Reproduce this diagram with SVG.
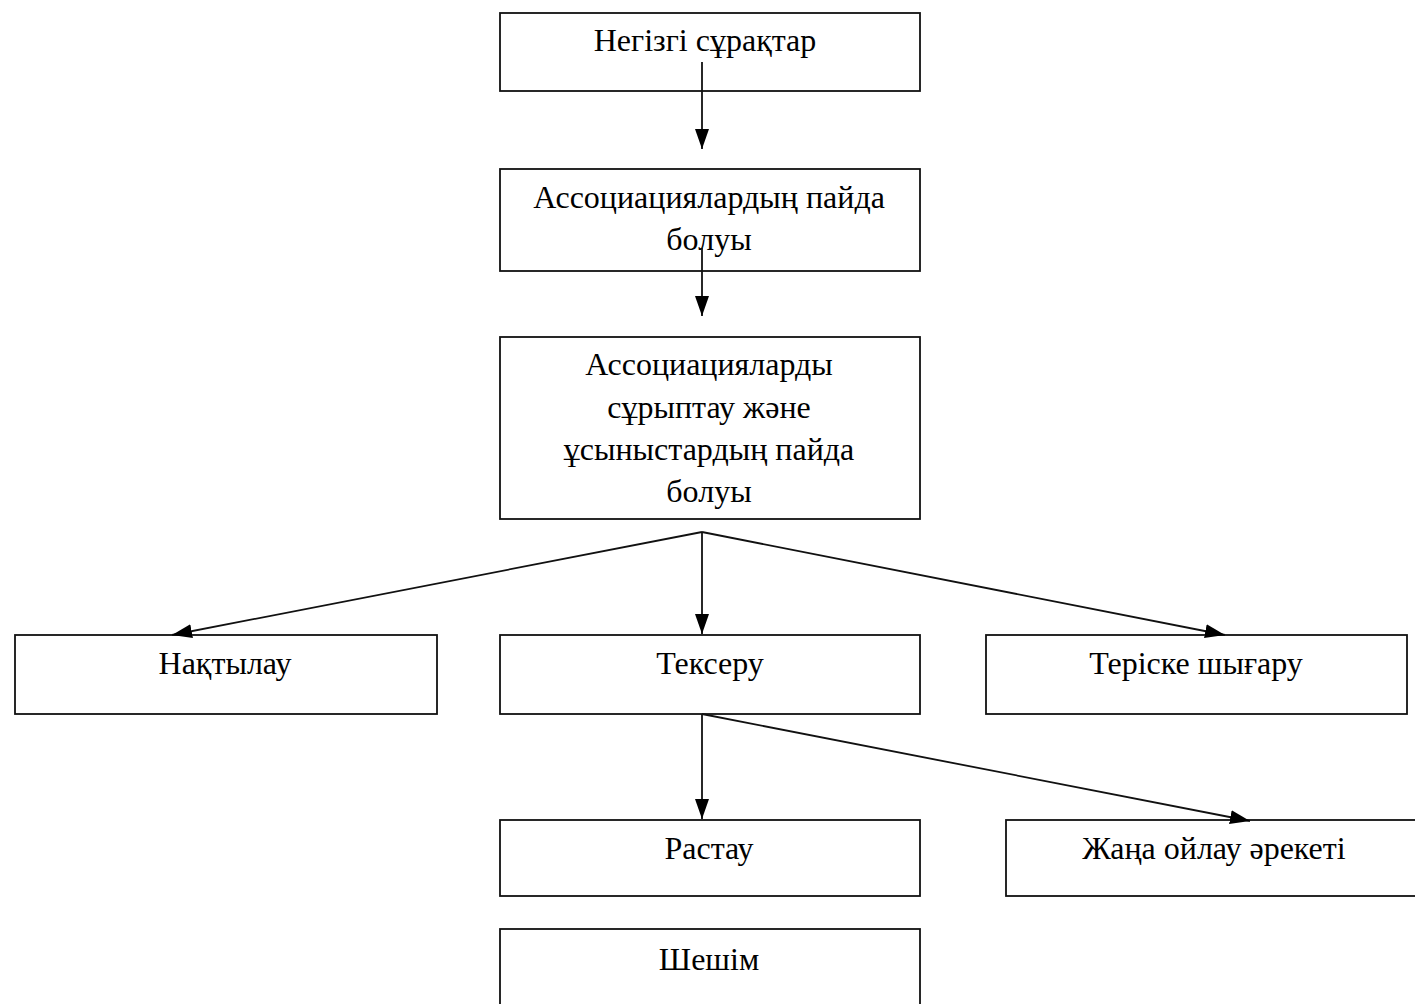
<svg xmlns="http://www.w3.org/2000/svg" width="1415" height="1004" viewBox="0 0 1415 1004">
<defs>
<marker id="ah" viewBox="0 0 20 14" refX="20" refY="7" markerWidth="20" markerHeight="14" markerUnits="userSpaceOnUse" orient="auto">
<path d="M0,0 L20,7 L0,14 Z" fill="#000"/>
</marker>
<style>
.box{fill:#fff;stroke:#111;stroke-width:1.8}
.t{font-family:"Liberation Serif","Times New Roman",serif;font-size:32px;fill:#000;text-anchor:middle}
.c{stroke:#111;stroke-width:1.8;fill:none}
</style>
</defs>
<rect width="1415" height="1004" fill="#fff"/>
<g id="n1"><rect class="box" x="500" y="13" width="420" height="78"/><text class="t" x="705" y="51">Негізгі сұрақтар</text></g>
<g id="n2"><rect class="box" x="500" y="169" width="420" height="102"/><text class="t" x="709" y="208">Ассоциациялардың пайда</text><text class="t" x="709" y="250">болуы</text></g>
<g id="n3"><rect class="box" x="500" y="337" width="420" height="182"/><text class="t" x="709" y="375">Ассоциацияларды</text><text class="t" x="709" y="418">сұрыптау және</text><text class="t" x="709" y="460">ұсыныстардың пайда</text><text class="t" x="709" y="502">болуы</text></g>
<g id="n4"><rect class="box" x="15" y="635" width="422" height="79"/><text class="t" x="225" y="674">Нақтылау</text></g>
<g id="n5"><rect class="box" x="500" y="635" width="420" height="79"/><text class="t" x="710" y="674">Тексеру</text></g>
<g id="n6"><rect class="box" x="986" y="635" width="421" height="79"/><text class="t" x="1196" y="674">Теріске шығару</text></g>
<g id="n7"><rect class="box" x="500" y="820" width="420" height="76"/><text class="t" x="709" y="859">Растау</text></g>
<g id="n8"><rect class="box" x="1006" y="820" width="420" height="76"/><text class="t" x="1214" y="859">Жаңа ойлау әрекеті</text></g>
<g id="n9"><rect class="box" x="500" y="929" width="420" height="90"/><text class="t" x="709" y="970">Шешім</text></g>
<g id="connectors">
<line class="c" x1="702" y1="62" x2="702" y2="149" marker-end="url(#ah)"/>
<line class="c" x1="702" y1="248" x2="702" y2="316" marker-end="url(#ah)"/>
<line class="c" x1="702" y1="532" x2="172" y2="635" marker-end="url(#ah)"/>
<line class="c" x1="702" y1="532" x2="702" y2="634" marker-end="url(#ah)"/>
<line class="c" x1="702" y1="532" x2="1225" y2="635" marker-end="url(#ah)"/>
<line class="c" x1="702" y1="714" x2="702" y2="819" marker-end="url(#ah)"/>
<line class="c" x1="702" y1="714" x2="1250" y2="821" marker-end="url(#ah)"/>
</g>
</svg>
